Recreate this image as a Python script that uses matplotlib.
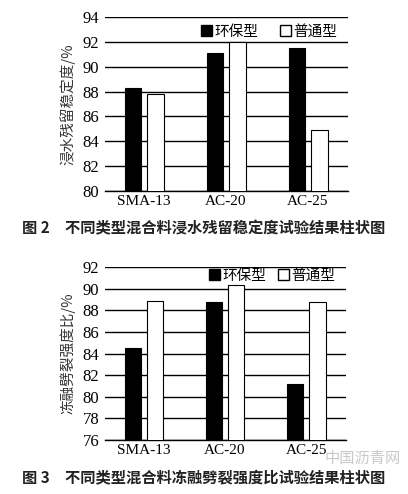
import numpy as np
import matplotlib.pyplot as plt
from matplotlib.patches import Patch

plt.rcParams['font.family'] = ['Liberation Serif', 'Noto Sans CJK SC']

categories = ['SMA-13', 'AC-20', 'AC-25']
series_names = ['环保型', '普通型']

# 图2 浸水残留稳定度 /%
stab_eco = [88.3, 91.1, 91.5]
stab_normal = [87.8, 92.0, 84.9]

# 图3 冻融劈裂强度比 /%
tsr_eco = [84.5, 88.8, 81.2]
tsr_normal = [88.9, 90.3, 88.8]

cap2 = '图 2　不同类型混合料浸水残留稳定度试验结果柱状图'
cap3 = '图 3　不同类型混合料冻融劈裂强度比试验结果柱状图'

cjk = ['Noto Sans CJK SC', 'DejaVu Sans']

fig = plt.figure(figsize=(4.08, 4.94), dpi=100)
ax1 = fig.add_axes([105 / 408, 1 - 191 / 494, 243 / 408, 174 / 494])
ax2 = fig.add_axes([105 / 408, 1 - 440 / 494, 241 / 408, 173 / 494])


def draw(ax, eco, normal, ylim, yticks, ylabel, leg_y, colsp):
    x = np.arange(len(categories))
    w = 0.2
    ax.bar(x - 0.135, eco, w, color='black', edgecolor='black', linewidth=0.8, zorder=3)
    ax.bar(x + 0.14, normal, w, color='white', edgecolor='black', linewidth=0.8, zorder=3)
    ax.set_xlim(-0.475, 2.49)
    ax.set_ylim(*ylim)
    ax.set_yticks(yticks)
    ax.set_xticks(x)
    ax.set_xticklabels(categories)
    for s in ['left', 'right', 'top']:
        ax.spines[s].set_visible(False)
    ax.spines['bottom'].set_linewidth(1.0)
    ax.grid(axis='y', color='black', linewidth=1.0, zorder=0)
    ax.tick_params(axis='y', length=0, pad=4, labelsize=12)
    ax.tick_params(axis='x', length=0, pad=3, labelsize=11)
    ax.set_ylabel(ylabel, family=cjk, fontsize=10.5, labelpad=5, color='#333333')
    handles = [Patch(facecolor='black', edgecolor='black'),
               Patch(facecolor='white', edgecolor='black')]
    leg = ax.legend(handles, series_names, ncol=2, loc='center right',
                    bbox_to_anchor=(0.99, leg_y), frameon=False,
                    borderpad=0.1, handlelength=0.75, handleheight=0.75,
                    handletextpad=0.15, columnspacing=colsp,
                    prop={'family': cjk, 'size': 10.5})
    leg.set_zorder(5)


draw(ax1, stab_eco, stab_normal, (80, 94), np.arange(80, 95, 2),
     '浸水残留稳定度/%', 0.915, 1.5)
draw(ax2, tsr_eco, tsr_normal, (76, 92), np.arange(76, 93, 2),
     '冻融劈裂强度比/%', 0.95, 0.8)

fig.text(0.5, 1 - 228 / 494, cap2, ha='center', va='center', family=cjk,
         fontsize=11, fontweight='bold', color='#222222')
fig.text(0.5, 1 - 477 / 494, cap3, ha='center', va='center', family=cjk,
         fontsize=11, fontweight='bold', color='#222222')
fig.text(363 / 408, 1 - 458 / 494, '中国沥青网', ha='center', va='center',
         family=cjk, fontsize=11, color='#bbbbbb', alpha=0.8)

fig.savefig('out.png', dpi=100)
